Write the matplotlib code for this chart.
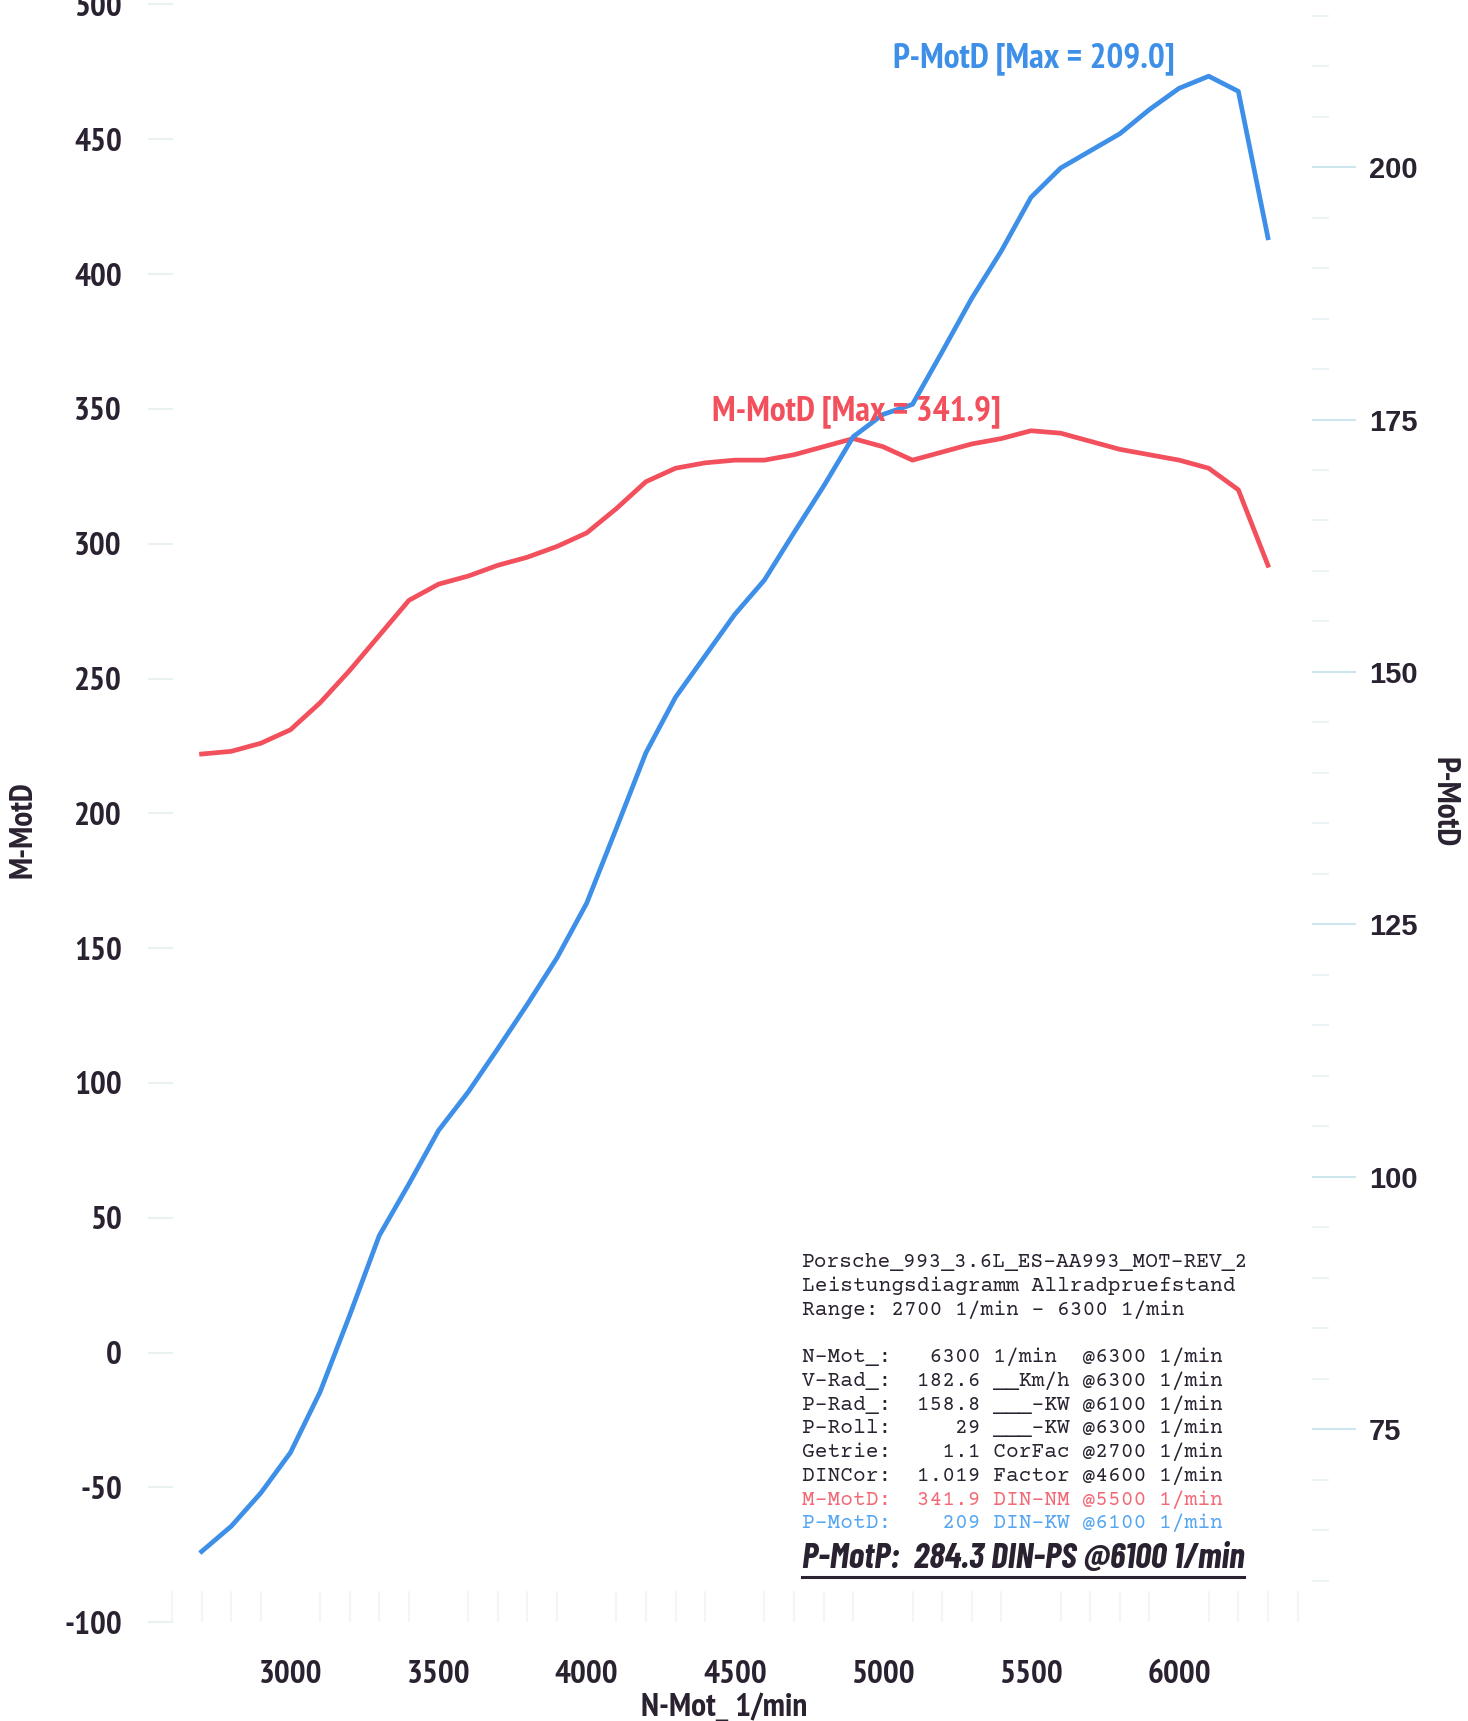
import matplotlib
matplotlib.use("Agg")
import matplotlib.pyplot as plt
from matplotlib.lines import Line2D
from matplotlib.ticker import MultipleLocator


# Drehzahl (1/min), Messpunkte alle 100 1/min
rpm = [2700, 2800, 2900, 3000, 3100, 3200, 3300, 3400, 3500, 3600,
       3700, 3800, 3900, 4000, 4100, 4200, 4300, 4400, 4500, 4600,
       4700, 4800, 4900, 5000, 5100, 5200, 5300, 5400, 5500, 5600,
       5700, 5800, 5900, 6000, 6100, 6200, 6300]

# Drehmoment M-MotD (DIN-NM)
torque = [222, 223, 226, 231, 241, 253, 266, 279, 285, 288,
          292, 295, 299, 304, 313, 323, 328, 330, 331, 331,
          333, 336, 339, 336, 331, 334, 337, 339, 341.9, 341,
          338, 335, 333, 331, 328, 320, 292]

# Leistung P-MotD (DIN-KW)
power = [62.9, 65.4, 68.7, 72.7, 78.7, 86.3, 94.2, 99.3, 104.6, 108.4,
         112.7, 117.1, 121.7, 127.1, 134.5, 142.0, 147.5, 151.6, 155.7, 159.1,
         163.8, 168.4, 173.3, 175.5, 176.5, 181.7, 187.0, 191.7, 197.0, 199.9,
         201.6, 203.3, 205.7, 207.8, 209.0, 207.5, 193.0]

# Textblock unten rechts
header_lines = ["Porsche_993_3.6L_ES-AA993_MOT-REV_2",
                "Leistungsdiagramm Allradpruefstand",
                "Range: 2700 1/min - 6300 1/min"]
stat_names = ["N-Mot_", "V-Rad_", "P-Rad_", "P-Roll", "Getrie", "DINCor", "M-MotD", "P-MotD"]
stat_values = ["6300", "182.6", "158.8", "29", "1.1", "1.019", "341.9", "209"]
stat_units = ["1/min", "__Km/h", "___-KW", "___-KW", "CorFac", "Factor", "DIN-NM", "DIN-KW"]
stat_rpm = [6300, 6300, 6100, 6300, 2700, 4600, 5500, 6100]
summary = "P-MotP:  284.3 DIN-PS @6100 1/min"

RED = "#f2505c"
BLUE = "#3d8fe8"
DARK = "#2a2230"
NARROW = ["PT Sans Narrow", "Liberation Sans", "DejaVu Sans"]
COND_IT = ["Barlow Condensed", "Roboto Condensed", "Liberation Sans"]
MONO = ["Courier Prime", "Liberation Mono", "DejaVu Sans Mono"]

plt.rcParams["axes.unicode_minus"] = False


def draw_chart():
    fig = plt.figure(figsize=(14.68, 17.21), dpi=100)
    ax = fig.add_axes([0.101, 0.0574, 0.793, 0.94])
    ax2 = ax.twinx()

    # Kurven
    ax.plot(rpm, torque, color=RED, lw=3.4, solid_joinstyle="round", zorder=3)
    ax2.plot(rpm, power, color=BLUE, lw=3.4, solid_joinstyle="round", zorder=3)

    # Achsen
    ax.set_xlim(2520, 6450)
    ax.set_ylim(-100, 500)
    ax2.set_ylim(55.9, 216.1)
    for a in (ax, ax2):
        for s in a.spines.values():
            s.set_visible(False)
    ax.patch.set_alpha(0)

    ax.set_xticks([3000, 3500, 4000, 4500, 5000, 5500, 6000])
    ax.xaxis.set_minor_locator(MultipleLocator(100))
    ax.set_yticks(range(-100, 501, 50))
    ax.tick_params(axis="x", which="major", length=0, pad=27)
    ax.tick_params(axis="x", which="minor", direction="in", length=22, color="#f3f6f7", width=1.5)
    ax.tick_params(axis="y", which="major", direction="in", length=18, color="#eaf1f3",
                   width=1.5, pad=19)
    for lab in ax.get_xticklabels() + ax.get_yticklabels():
        lab.set_family(NARROW)
        lab.set_fontweight("bold")
        lab.set_fontsize(24)
        lab.set_color(DARK)

    ax2.set_yticks([75, 100, 125, 150, 175, 200])
    ax2.yaxis.set_minor_locator(MultipleLocator(5))
    ax2.tick_params(axis="y", which="major", direction="out", length=32, color="#cde5ec",
                    width=1.5, pad=8.5)
    ax2.tick_params(axis="y", which="minor", direction="out", length=12, color="#e8f1f4", width=1.2)
    for lab in ax2.get_yticklabels():
        lab.set_family(["Liberation Sans", "DejaVu Sans"])
        lab.set_fontweight("bold")
        lab.set_fontsize(21)
        lab.set_color(DARK)

    ax.set_xlabel("N-Mot_ 1/min", family=NARROW, fontsize=24, fontweight="bold", color=DARK,
                  va="center")
    ax.xaxis.set_label_coords(0.495, -0.053)
    ax.set_ylabel("M-MotD", family=NARROW, fontsize=24, fontweight="bold", color=DARK,
                  va="center")
    ax.yaxis.set_label_coords(-0.107, 0.49)
    ax2.set_ylabel("P-MotD", family=NARROW, fontsize=24, fontweight="bold", color=DARK,
                   rotation=-90, va="center")
    ax2.yaxis.set_label_coords(1.113, 0.507)

    # Maximalwerte beschriften
    fig.text(0.4847, 0.7608, f"M-MotD [Max = {max(torque):.1f}]",
             color=RED, family=NARROW, fontsize=25.5, fontweight="bold", va="center", zorder=4)
    fig.text(0.608, 0.9662, f"P-MotD [Max = {max(power):.1f}]",
             color=BLUE, family=NARROW, fontsize=25.5, fontweight="bold", va="center", zorder=4)

    # Textblock
    x0 = 0.546
    y = 0.2666
    step = 21.6 / 1568
    for line in header_lines:
        fig.text(x0, y, line, family=MONO, fontsize=15.3, color=DARK, va="center")
        y -= step
    y -= step
    for i, name in enumerate(stat_names):
        color = DARK
        if name == "M-MotD":
            color = "#f26a76"
        elif name == "P-MotD":
            color = "#55a6f0"
        line = f"{name + ':':<7}  {stat_values[i]:>5} {stat_units[i]:<6} @{stat_rpm[i]} 1/min"
        fig.text(x0, y, line, family=MONO, fontsize=15.3, color=color, va="center")
        y -= step
    t = fig.text(x0, 1 - 1420 / 1568, summary, family=COND_IT, fontsize=25.8, fontweight="bold",
                 style="italic", color=DARK, va="center")

    # Unterstreichung unter der Zusammenfassung
    fig.canvas.draw()
    bb = t.get_window_extent()
    W, H = fig.canvas.get_width_height()
    yl = (bb.y0 - 2) / H
    fig.add_artist(Line2D([bb.x0 / W, bb.x1 / W], [yl, yl], transform=fig.transFigure,
                          color=DARK, lw=2.2))

    fig.savefig("out.png", dpi=100)


def main():
    draw_chart()


if __name__ == "__main__":
    main()
